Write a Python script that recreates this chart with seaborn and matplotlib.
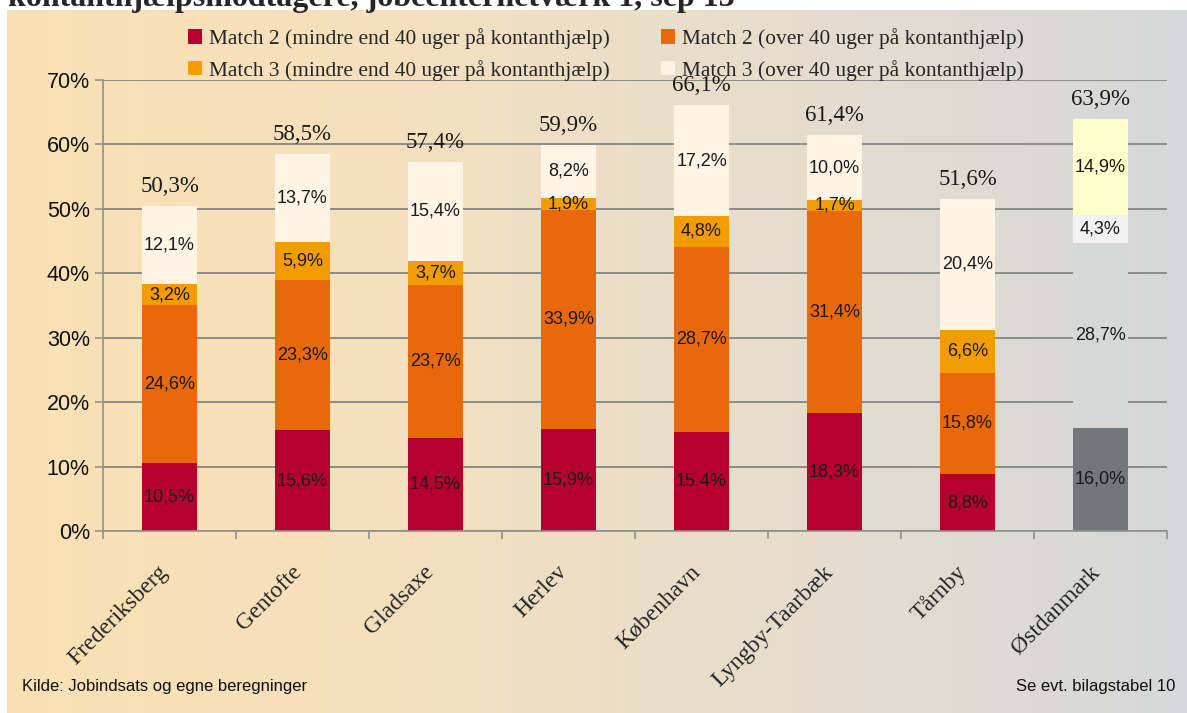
import numpy as np
import pandas as pd
import seaborn as sns
import matplotlib.pyplot as plt
from matplotlib.patches import Patch
from matplotlib.ticker import FuncFormatter

# data _____________________________________________________________________
kommuner = ['Frederiksberg', 'Gentofte', 'Gladsaxe', 'Herlev', 'København',
            'Lyngby-Taarbæk', 'Tårnby', 'Østdanmark']
m2_under40 = [10.5, 15.6, 14.5, 15.9, 15.4, 18.3, 8.8, 16.0]
m2_over40 = [24.6, 23.3, 23.7, 33.9, 28.7, 31.4, 15.8, 28.7]
m3_under40 = [3.2, 5.9, 3.7, 1.9, 4.8, 1.7, 6.6, 4.3]
m3_over40 = [12.1, 13.7, 15.4, 8.2, 17.2, 10.0, 20.4, 14.9]
totals = [50.3, 58.5, 57.4, 59.9, 66.1, 61.4, 51.6, 63.9]
legend_labels = ['Match 2 (mindre end 40 uger på kontanthjælp)',
                 'Match 2 (over 40 uger på kontanthjælp)',
                 'Match 3 (mindre end 40 uger på kontanthjælp)',
                 'Match 3 (over 40 uger på kontanthjælp)']

layers = [m2_under40, m2_over40, m3_under40, m3_over40]
colors = ['#B5002F', '#E8690C', '#F39C00', '#FDF4E6']
# Østdanmark has its own colours
oest_colors = ['#72787A', '#D6D8D8', '#F2F2F2', '#FFFFCC']

sns.set_theme(style='white')
plt.rcParams['font.family'] = ['Liberation Sans', 'DejaVu Sans']

W, H = 1187, 713
fig = plt.figure(figsize=(W / 100, H / 100), dpi=100)
fig.patch.set_facecolor('white')

# gradient background panel
bg = fig.add_axes([7 / W, 0, 1 - 7 / W, 703 / H], zorder=-10)
stops = np.array([[250, 225, 180], [244, 224, 190], [230, 221, 206], [213, 216, 217]]) / 255
xs = np.linspace(0, 1, 400)
sp = np.linspace(0, 1, len(stops))
grad = np.stack([np.interp(xs, sp, stops[:, c]) for c in range(3)], axis=-1)
bg.imshow(grad[None, :, :], aspect='auto', extent=(0, 1, 0, 1))
bg.set_axis_off()

ax = fig.add_axes([103 / W, 1 - 531 / H, 1064 / W, 451 / H])
ax.set_facecolor('none')

# stacked bars: draw cumulative sums from the top down
cum = np.cumsum(np.array(layers), axis=0)
for k in range(len(layers) - 1, -1, -1):
    df = pd.DataFrame({'kommune': kommuner, 'val': cum[k] / 100})
    pal = {c: colors[k] for c in kommuner}
    pal['Østdanmark'] = oest_colors[k]
    sns.barplot(data=df, x='kommune', y='val', hue='kommune', palette=pal,
                legend=False, width=0.42, saturation=1, ax=ax, zorder=2,
                linewidth=0)

# segment labels
for k, layer in enumerate(layers):
    for i, v in enumerate(layer):
        mid = (cum[k][i] - v / 2) / 100
        ax.text(i, mid, f'{v:.1f}%'.replace('.', ','), ha='center', va='center',
                fontsize=13, color='#1a1a1a', zorder=5)

# total labels
for i, t in enumerate(totals):
    ax.annotate(f'{t:.1f}%'.replace('.', ','), (i, cum[-1][i] / 100),
                xytext=(0, 14), textcoords='offset points', ha='center', va='center',
                fontsize=16.5, family='Liberation Serif', color='#1a1a1a')

ax.set_ylim(0, 0.7)
ax.set_xlim(-0.5, 7.5)
ax.set_yticks(np.arange(0, 0.71, 0.1))
ax.yaxis.set_major_formatter(FuncFormatter(lambda v, p: f'{v * 100:.0f}%'))
ax.yaxis.grid(True, color='#858585', linewidth=1.3, zorder=0)
ax.set_axisbelow(True)
ax.set_xlabel('')
ax.set_ylabel('')

# category labels sit a little left of the bar centres, as in the original
ax.set_xticks(np.arange(len(kommuner)) - 0.09)
ax.set_xticklabels(kommuner, rotation=45, ha='right', rotation_mode='anchor',
                   family='Liberation Serif', fontsize=17)
ax.set_xticks(np.arange(-0.5, 8, 1), minor=True)
ax.tick_params(axis='x', which='major', length=0, pad=22)
ax.tick_params(axis='x', which='minor', length=6, color='#909090', width=1.2, bottom=True)
ax.tick_params(axis='y', length=6, color='#909090', width=1.2, labelsize=15.5, left=True,
               labelcolor='#111111')
for s in ['top', 'right']:
    ax.spines[s].set_visible(False)
for s in ['left', 'bottom']:
    ax.spines[s].set_color('#909090')
    ax.spines[s].set_linewidth(1.2)

# legend, two columns
handles = [Patch(facecolor=c, edgecolor='none') for c in colors]
leg_kw = dict(frameon=False, loc='upper left', borderpad=0, borderaxespad=0,
              handlelength=0.65, handleheight=0.65, handletextpad=0.35,
              labelspacing=0.5, prop={'family': 'Liberation Serif', 'size': 15.4})
fig.legend([handles[0], handles[2]], [legend_labels[0], legend_labels[2]],
           bbox_to_anchor=(188 / W, 1 - 28 / H), **leg_kw)
fig.legend([handles[1], handles[3]], [legend_labels[1], legend_labels[3]],
           bbox_to_anchor=(661 / W, 1 - 28 / H), **leg_kw)

# title, cut at the top edge
fig.text(8 / W, 1 - 6 / H, 'kontanthjælpsmodtagere, jobcenternetværk 1, sep 13',
         family='Liberation Serif', weight='bold', fontsize=23, va='baseline')

# footer
fig.text(22 / W, 1 - 686 / H, 'Kilde: Jobindsats og egne beregninger',
         fontsize=12, va='center', ha='left', color='#111111')
fig.text(1175 / W, 1 - 686 / H, 'Se evt. bilagstabel 10',
         fontsize=12, va='center', ha='right', color='#111111')

fig.savefig('out.png', dpi=100)
